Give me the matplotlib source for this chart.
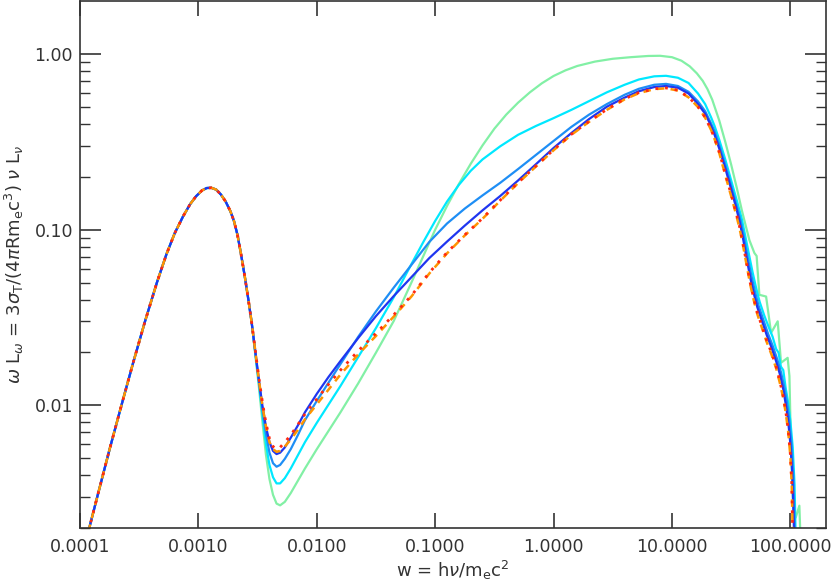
import numpy as np
import matplotlib
matplotlib.use('Agg')
import matplotlib.pyplot as plt
from matplotlib.ticker import FixedLocator, NullLocator, FixedFormatter

# values, as log10(w) and log10(omega L_omega)
common_logw = [-3.93, -3.85, -3.75, -3.65, -3.55, -3.45, -3.35, -3.27, -3.20, -3.13,
               -3.07, -3.02, -2.97, -2.93, -2.89, -2.85, -2.81, -2.77, -2.73, -2.70,
               -2.67, -2.64, -2.61, -2.58, -2.55]
common_logL = [-2.72, -2.51, -2.25, -2.00, -1.755, -1.52, -1.30, -1.14, -1.02, -0.925,
               -0.855, -0.81, -0.777, -0.763, -0.762, -0.772, -0.80, -0.84, -0.895, -0.95,
               -1.03, -1.14, -1.26, -1.39, -1.53]

green_logw = [-2.52, -2.49, -2.46, -2.43, -2.40, -2.37, -2.34, -2.31, -2.27, -2.22,
              -2.16, -2.10, -2.00, -1.90, -1.80, -1.65, -1.50, -1.35, -1.20, -1.10,
              -1.00, -0.90, -0.80, -0.70, -0.60, -0.50, -0.40, -0.30, -0.20, -0.10,
              0.00, 0.10, 0.20, 0.35, 0.50, 0.65, 0.80, 0.90, 1.00, 1.08, 1.15, 1.21,
              1.26, 1.30, 1.34, 1.40, 1.45, 1.50, 1.55, 1.59, 1.62, 1.654, 1.696,
              1.715, 1.738, 1.795, 1.837, 1.893, 1.921, 1.977, 1.992, 2.005, 2.025,
              2.045, 2.076, 2.085]
green_logL = [-1.71, -1.89, -2.09, -2.28, -2.42, -2.51, -2.56, -2.57, -2.55, -2.50,
              -2.43, -2.36, -2.25, -2.145, -2.04, -1.875, -1.70, -1.52, -1.30, -1.15,
              -1.00, -0.865, -0.74, -0.625, -0.52, -0.425, -0.345, -0.277, -0.218, -0.167,
              -0.125, -0.093, -0.068, -0.043, -0.027, -0.018, -0.011, -0.010, -0.018,
              -0.038, -0.07, -0.11, -0.153, -0.20, -0.26, -0.38, -0.50, -0.63, -0.77,
              -0.89, -0.97, -1.06, -1.133, -1.15, -1.371, -1.381, -1.588, -1.522,
              -1.758, -1.730, -1.834, -2.231, -2.608, -2.64, -2.572, -2.75]

cyan_logw = [-2.52, -2.49, -2.46, -2.43, -2.40, -2.37, -2.34, -2.31, -2.27, -2.22,
             -2.16, -2.10, -2.00, -1.90, -1.80, -1.65, -1.50, -1.35, -1.20, -1.10,
             -1.00, -0.90, -0.80, -0.70, -0.60, -0.45, -0.30, -0.15, 0.00, 0.15, 0.30,
             0.45, 0.60, 0.72, 0.85, 0.95, 1.05, 1.14, 1.22, 1.28, 1.33, 1.36, 1.40,
             1.45, 1.50, 1.55, 1.59, 1.62, 1.65, 1.68, 1.71, 1.74, 1.78, 1.82, 1.85,
             1.88, 1.90, 1.92, 1.94, 1.96, 1.98, 2.00, 2.02, 2.035, 2.045]
cyan_logL = [-1.70, -1.87, -2.05, -2.22, -2.34, -2.41, -2.445, -2.445, -2.415, -2.36,
             -2.285, -2.21, -2.10, -1.995, -1.89, -1.725, -1.56, -1.385, -1.195, -1.07,
             -0.95, -0.84, -0.745, -0.665, -0.60, -0.525, -0.46, -0.41, -0.365, -0.318,
             -0.268, -0.218, -0.175, -0.145, -0.127, -0.124, -0.135, -0.165, -0.225,
             -0.285, -0.36, -0.41, -0.49, -0.60, -0.72, -0.84, -0.94, -1.04, -1.14,
             -1.24, -1.33, -1.41, -1.49, -1.56, -1.61, -1.68, -1.70, -1.78, -1.80,
             -1.90, -1.98, -2.09, -2.24, -2.45, -2.75]

lblue_logw = [-2.52, -2.49, -2.46, -2.43, -2.40, -2.37, -2.34, -2.31, -2.27, -2.22,
              -2.16, -2.10, -2.00, -1.90, -1.80, -1.65, -1.50, -1.35, -1.20, -1.05,
              -0.90, -0.75, -0.60, -0.45, -0.30, -0.15, 0.00, 0.15, 0.30, 0.45, 0.60,
              0.72, 0.85, 0.95, 1.05, 1.14, 1.22, 1.28, 1.33, 1.36, 1.40, 1.45, 1.50,
              1.54, 1.58, 1.61, 1.64, 1.67, 1.70, 1.73, 1.77, 1.81, 1.85, 1.89, 1.92,
              1.95, 1.97, 1.99, 2.01, 2.025, 2.033, 2.04]
lblue_logL = [-1.695, -1.86, -2.02, -2.16, -2.27, -2.33, -2.35, -2.34, -2.305, -2.25,
              -2.17, -2.085, -1.975, -1.87, -1.765, -1.61, -1.465, -1.33, -1.20, -1.07,
              -0.965, -0.88, -0.805, -0.733, -0.655, -0.575, -0.495, -0.415, -0.345,
              -0.285, -0.232, -0.198, -0.175, -0.170, -0.182, -0.215, -0.27, -0.325,
              -0.395, -0.44, -0.52, -0.63, -0.75, -0.85, -0.95, -1.05, -1.16, -1.26,
              -1.35, -1.43, -1.51, -1.59, -1.66, -1.74, -1.81, -1.90, -1.98, -2.08,
              -2.22, -2.40, -2.60, -2.75]

dblue_logw = [-2.52, -2.49, -2.46, -2.43, -2.40, -2.37, -2.34, -2.31, -2.27, -2.22,
              -2.16, -2.10, -2.00, -1.90, -1.80, -1.65, -1.50, -1.35, -1.20, -1.05,
              -0.90, -0.75, -0.60, -0.45, -0.30, -0.15, 0.00, 0.15, 0.30, 0.45, 0.60,
              0.72, 0.85, 0.95, 1.05, 1.14, 1.22, 1.28, 1.316, 1.36, 1.40, 1.45, 1.50,
              1.54, 1.57, 1.60, 1.63, 1.66, 1.69, 1.72, 1.76, 1.80, 1.84, 1.88, 1.91,
              1.94, 1.96, 1.98, 2.00, 2.015, 2.025, 2.032]
dblue_logL = [-1.69, -1.85, -2.00, -2.12, -2.21, -2.26, -2.278, -2.27, -2.24, -2.185,
              -2.115, -2.04, -1.935, -1.838, -1.748, -1.617, -1.492, -1.378, -1.27, -1.162,
              -1.068, -0.977, -0.89, -0.808, -0.72, -0.628, -0.535, -0.45, -0.37, -0.30,
              -0.248, -0.212, -0.188, -0.182, -0.192, -0.225, -0.285, -0.34, -0.389,
              -0.46, -0.54, -0.65, -0.77, -0.87, -0.95, -1.05, -1.16, -1.27, -1.36,
              -1.44, -1.52, -1.60, -1.67, -1.75, -1.82, -1.91, -1.99, -2.08, -2.22,
              -2.38, -2.58, -2.75]

red_logw = [-2.52, -2.49, -2.46, -2.43, -2.40, -2.37, -2.34, -2.31, -2.27, -2.22,
            -2.16, -2.10, -2.00, -1.90, -1.80, -1.65, -1.50, -1.35, -1.20, -1.05,
            -0.90, -0.75, -0.60, -0.45, -0.30, -0.15, 0.00, 0.15, 0.30, 0.45, 0.60,
            0.72, 0.85, 0.95, 1.05, 1.14, 1.22, 1.28, 1.33, 1.36, 1.40, 1.45, 1.50,
            1.54, 1.57, 1.60, 1.63, 1.66, 1.69, 1.72, 1.76, 1.80, 1.84, 1.88, 1.91,
            1.94, 1.96, 1.98, 2.00, 2.012, 2.02]
red_logL = [-1.685, -1.84, -1.98, -2.10, -2.19, -2.235, -2.25, -2.24, -2.21, -2.17,
            -2.11, -2.05, -1.965, -1.88, -1.80, -1.69, -1.59, -1.485, -1.375, -1.245,
            -1.13, -1.03, -0.935, -0.832, -0.732, -0.638, -0.545, -0.457, -0.383, -0.315,
            -0.255, -0.22, -0.198, -0.193, -0.206, -0.245, -0.30, -0.36, -0.43, -0.48,
            -0.56, -0.68, -0.80, -0.90, -0.98, -1.08, -1.19, -1.30, -1.39, -1.47,
            -1.55, -1.63, -1.70, -1.78, -1.86, -1.95, -2.03, -2.13, -2.28, -2.45,
            -2.75]

orange_logw = [-2.52, -2.49, -2.46, -2.43, -2.40, -2.37, -2.34, -2.31, -2.27, -2.22,
               -2.16, -2.10, -2.00, -1.90, -1.80, -1.65, -1.50, -1.35, -1.20, -1.05,
               -0.90, -0.75, -0.60, -0.45, -0.30, -0.15, 0.00, 0.15, 0.30, 0.45, 0.60,
               0.72, 0.85, 0.95, 1.05, 1.14, 1.22, 1.28, 1.33, 1.36, 1.40, 1.45, 1.50,
               1.54, 1.57, 1.60, 1.63, 1.66, 1.69, 1.72, 1.76, 1.80, 1.84, 1.88, 1.91,
               1.94, 1.96, 1.98, 2.00, 2.012, 2.02]
orange_logL = [-1.69, -1.85, -2.00, -2.12, -2.21, -2.25, -2.265, -2.26, -2.235, -2.195,
               -2.14, -2.08, -1.995, -1.91, -1.825, -1.71, -1.605, -1.495, -1.38, -1.25,
               -1.135, -1.033, -0.938, -0.835, -0.735, -0.641, -0.548, -0.46, -0.386,
               -0.318, -0.258, -0.223, -0.20, -0.195, -0.208, -0.247, -0.302, -0.362,
               -0.432, -0.485, -0.565, -0.69, -0.81, -0.91, -0.99, -1.09, -1.20, -1.31,
               -1.40, -1.48, -1.56, -1.64, -1.71, -1.79, -1.87, -1.96, -2.04, -2.14,
               -2.29, -2.46, -2.75]

x_ticks = [1e-4, 1e-3, 1e-2, 1e-1, 1.0, 10.0, 100.0]
x_ticklabels = ['0.0001', '0.0010', '0.0100', '0.1000', '1.0000', '10.0000', '100.0000']
y_ticks = [0.01, 0.1, 1.0]
y_ticklabels = ['0.01', '0.10', '1.00']

series = [
    (green_logw, green_logL, '#82f0a5', '-'),
    (cyan_logw, cyan_logL, '#00e8ff', '-'),
    (lblue_logw, lblue_logL, '#1e8ef5', '-'),
    (dblue_logw, dblue_logL, '#1f36f0', '-'),
    (orange_logw, orange_logL, '#ff9500', '--'),
    (red_logw, red_logL, '#ff2a10', ':'),
]

fig = plt.figure(figsize=(8.31, 5.84), dpi=100)
ax = fig.add_axes([0.0963, 0.0959, 0.8977, 0.9021])

for lw_, lL_, col, ls in series:
    w = 10.0 ** np.array(common_logw + lw_)
    L = 10.0 ** np.array(common_logL + lL_)
    if ls == ':':
        ax.plot(w, L, color=col, lw=2.0, linestyle=(0, (1, 2.5)))
    elif ls == '--':
        ax.plot(w, L, color=col, lw=1.8, linestyle=(0, (3, 2.5)))
    else:
        ax.plot(w, L, color=col, lw=1.6)

ax.set_xscale('log')
ax.set_yscale('log')
ax.set_xlim(1e-4, 200)
ax.set_ylim(0.002, 2.0)

dark = '#333333'
ax.xaxis.set_major_locator(FixedLocator(x_ticks))
ax.xaxis.set_major_formatter(FixedFormatter(x_ticklabels))
ax.xaxis.set_minor_locator(NullLocator())
ax.yaxis.set_major_locator(FixedLocator(y_ticks))
ax.yaxis.set_major_formatter(FixedFormatter(y_ticklabels))
yminor = [m * d for d in (0.001, 0.01, 0.1) for m in range(2, 10)]
ax.yaxis.set_minor_locator(FixedLocator(yminor))

ax.tick_params(axis='both', which='both', direction='in', top=True, right=True,
               colors=dark, labelsize=12.5)
ax.tick_params(axis='x', which='major', length=11, width=1.2, pad=7)
ax.tick_params(axis='y', which='major', length=15, width=1.2, pad=5)
ax.tick_params(axis='y', which='minor', length=7, width=1.0)
for s in ax.spines.values():
    s.set_color(dark)
    s.set_linewidth(1.2)

plt.rcParams['mathtext.fontset'] = 'dejavusans'
ax.set_xlabel(r'w = h$\nu$/m$_{\rm e}$c$^2$', fontsize=13, color=dark, labelpad=2)
ax.set_ylabel(r'$\omega$ L$_\omega$ = 3$\sigma_{\rm T}$/(4$\pi$Rm$_{\rm e}$c$^3$) $\nu$ L$_\nu$',
              fontsize=13, color=dark, labelpad=6)

fig.savefig('out.png', dpi=100)
